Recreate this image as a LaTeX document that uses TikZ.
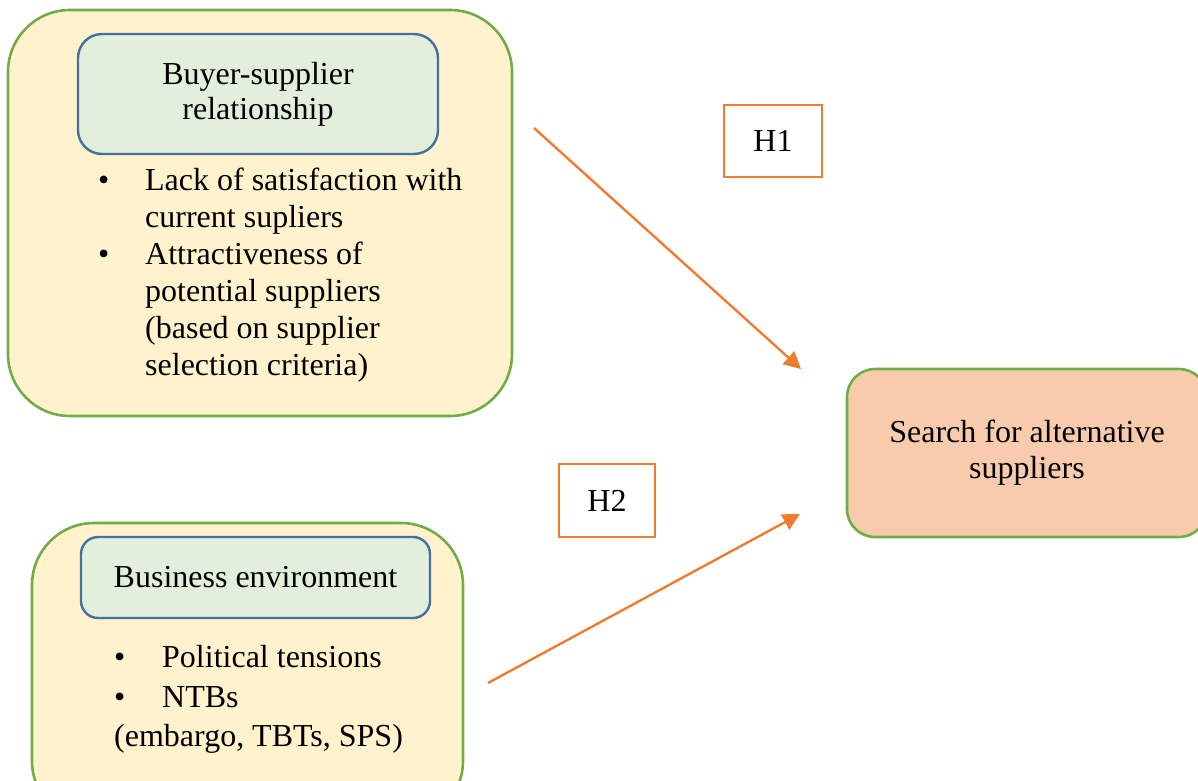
\documentclass[tikz,border=0pt]{standalone}
\usepackage{fontspec}
\setmainfont{Liberation Serif}
\usetikzlibrary{arrows.meta,positioning}
\definecolor{boxyellow}{HTML}{FFF2CC}
\definecolor{boxgreen}{HTML}{70AD47}
\definecolor{boxmint}{HTML}{E2EFDA}
\definecolor{boxblue}{HTML}{41719C}
\definecolor{boxpeach}{HTML}{F8CBAD}
\definecolor{hypoorange}{HTML}{ED7D31}
\tikzset{
  outerbox/.style={draw=boxgreen, fill=boxyellow, line width=2.6pt, rounded corners=62pt, inner sep=0pt},
  titlebox/.style={draw=boxblue, fill=boxmint, line width=2.4pt, align=center, inner sep=0pt},
  hypobox/.style={draw=hypoorange, fill=white, line width=2.4pt, inner sep=0pt},
  itemlist/.style={anchor=north west, inner sep=0pt},
  link/.style={draw=hypoorange, line width=2.4pt, -{Triangle[length=17pt,width=17pt]}}
}

\begin{document}
\begin{tikzpicture}[x=1pt,y=-1pt,font=\fontsize{32}{37}\selectfont]
\useasboundingbox (0,0) rectangle (1198,780); % khung
\clip (0,0) rectangle (1198,780);
% khoi 1
\node[outerbox, minimum width=504pt, minimum height=406pt] (bsouter) at (260,213) {};
\node[titlebox, rounded corners=24pt, minimum width=360pt, minimum height=120pt,
      font=\fontsize{32}{35}\selectfont] (bstitle) at (258,94) {Buyer-supplier\\relationship};
\node[itemlist] (bsitems) at (98,164) {\begin{tabular}{@{}p{47pt}@{}l@{}}
  \textbullet & Lack of satisfaction with\\
              & current supliers\\
  \textbullet & Attractiveness of\\
              & potential suppliers\\
              & (based on supplier\\
              & selection criteria)
\end{tabular}};
% khoi 2
\node[outerbox, minimum width=431pt, minimum height=300pt] (beouter) at (247.5,673) {};
\node[titlebox, rounded corners=17pt, minimum width=349pt, minimum height=81pt] (betitle) at (255.5,577.5) {Business environment};
\node[itemlist, font=\fontsize{32}{39.5}\selectfont] (beitems) at (114,640) {\begin{tabular}{@{}p{48pt}@{}l@{}}
  \textbullet & Political tensions\\
  \textbullet & NTBs\\
  \multicolumn{2}{@{}l@{}}{(embargo, TBTs, SPS)}
\end{tabular}};
% ket qua
\node[outerbox, fill=boxpeach, rounded corners=28pt, minimum width=360pt, minimum height=168pt,
      align=center, font=\fontsize{32}{36}\selectfont] (search) at (1027,453) {Search for alternative\\suppliers};
% gia thuyet
\node[hypobox, minimum width=98pt, minimum height=72pt] (hone) at (773,141) {H1};
\node[hypobox, minimum width=96pt, minimum height=73pt] (htwo) at (607,500.5) {H2};
% mui ten
\coordinate (hone start) at (534,128);
\coordinate (hone end) at (801,369);
\coordinate (htwo start) at (488,683);
\coordinate (htwo end) at (800,514);
\draw[link] (hone start) -- (hone end);
\draw[link] (htwo start) -- (htwo end);
\end{tikzpicture}
\end{document}
